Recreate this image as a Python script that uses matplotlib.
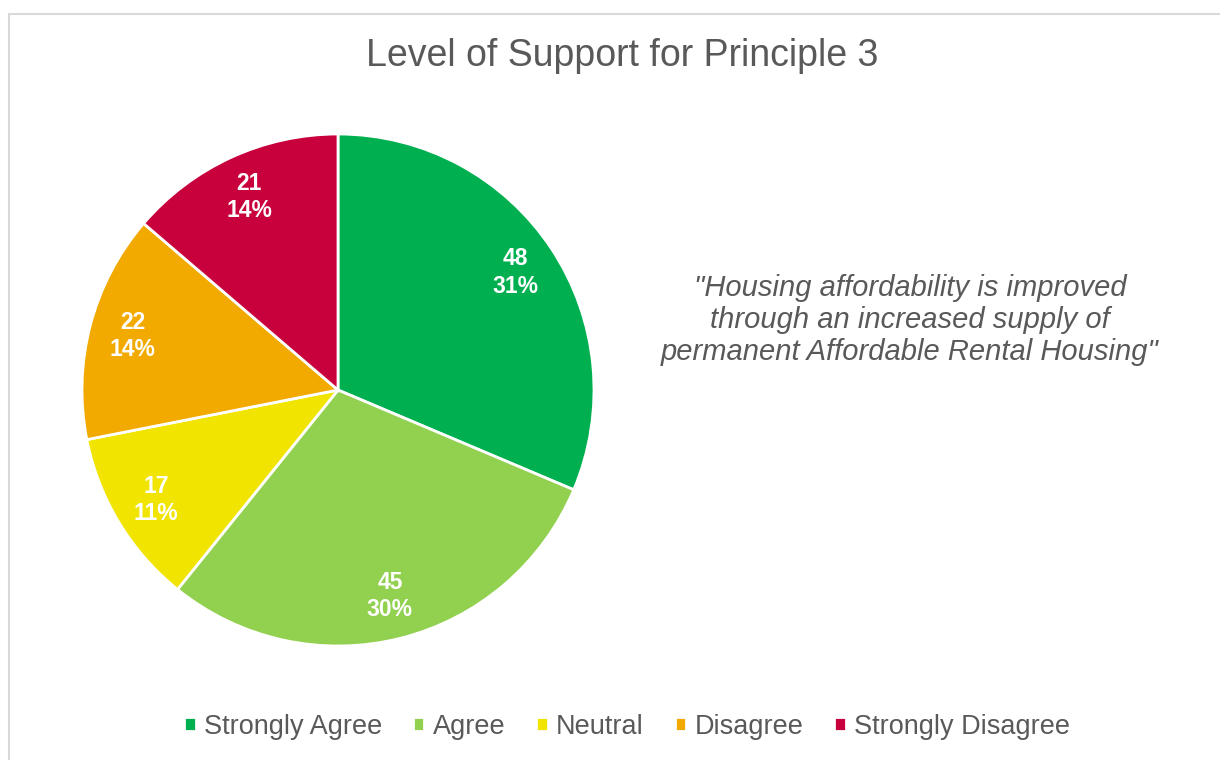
import matplotlib.pyplot as plt
from matplotlib.patches import Rectangle

plt.rcParams["font.family"] = ["Liberation Sans", "DejaVu Sans"]

categories = ["Strongly Agree", "Agree", "Neutral", "Disagree", "Strongly Disagree"]
counts = [48, 45, 17, 22, 21]
pct_labels = ["31%", "30%", "11%", "14%", "14%"]
colors = ["#00B050", "#92D050", "#F0E400", "#F2A900", "#C8003C"]

title = "Level of Support for Principle 3"
quote = ('"Housing affordability is improved\n'
         'through an increased supply of\n'
         'permanent Affordable Rental Housing"')

W, H, DPI = 1220, 760, 100
fig = plt.figure(figsize=(W / DPI, H / DPI), dpi=DPI)

# chart frame, running off the right and bottom edges
fig.patches.append(Rectangle((9 / W, -0.1), 1.2, 1 - 14 / H + 0.1,
                             transform=fig.transFigure, fill=False,
                             edgecolor="#D9D9D9", linewidth=1.5))

# pie axes: centre (338, 390), radius 256 px
cx, cy, r = 338, 390, 256
ax = fig.add_axes([(cx - r) / W, 1 - (cy + r) / H, 2 * r / W, 2 * r / H])
wedges, texts = ax.pie(
    counts,
    colors=colors,
    startangle=90,
    counterclock=False,
    labels=[f"{c}\n{p}" for c, p in zip(counts, pct_labels)],
    labeldistance=0.83,
    wedgeprops=dict(edgecolor="white", linewidth=2),
    textprops=dict(color="white", fontsize=16.5, fontweight="bold",
                   ha="center", va="center", linespacing=1.25),
)
for t in texts:
    t.set_horizontalalignment("center")
ax.set_xlim(-1, 1)
ax.set_ylim(-1, 1)
ax.set_aspect("equal")

fig.text(622 / W, 1 - 56 / H, title, ha="center", va="center",
         fontsize=27, color="#595959")
fig.text(910 / W, 1 - 320 / H, quote, ha="center", va="center",
         fontsize=21, style="italic", color="#595959", linespacing=1.2)

fig.legend(wedges, categories, loc="center", ncol=5,
           bbox_to_anchor=(627 / W, 1 - 727 / H), frameon=False,
           fontsize=19.5, labelcolor="#595959", handlelength=0.42,
           handleheight=0.42, handletextpad=0.3, columnspacing=1.15)

fig.savefig("out.png", dpi=DPI)
